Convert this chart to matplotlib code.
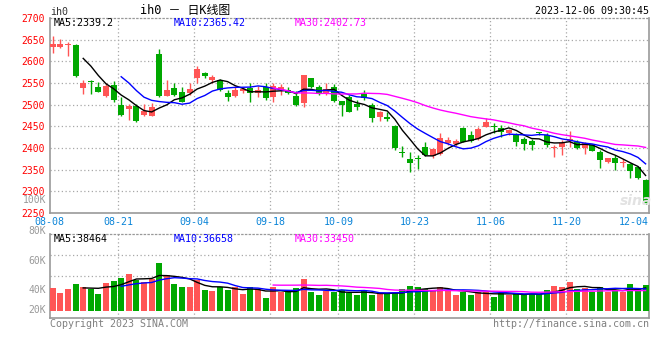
import matplotlib
matplotlib.use('Agg')
import matplotlib.pyplot as plt
import numpy as np
from matplotlib.transforms import blended_transform_factory

# ---------------- data ----------------
dates = ['08-08','08-09','08-10','08-11','08-14','08-15','08-16','08-17','08-18',
         '08-21','08-22','08-23','08-24','08-25','08-28','08-29','08-30','08-31','09-01',
         '09-04','09-05','09-06','09-07','09-08','09-11','09-12','09-13','09-14','09-15',
         '09-18','09-19','09-20','09-21','09-22','09-25','09-26','09-27','09-28',
         '10-09','10-10','10-11','10-12','10-13','10-16','10-17','10-18','10-19','10-20',
         '10-23','10-24','10-25','10-26','10-27','10-30','10-31','11-01','11-02','11-03',
         '11-06','11-07','11-08','11-09','11-10','11-13','11-14','11-15','11-16','11-17',
         '11-20','11-21','11-22','11-23','11-24','11-27','11-28','11-29','11-30','12-01',
         '12-04']
opens  = [2632,2632,2637,2638,2538,2555,2540,2520,2545,2499,2491,2497,2476,2474,2618,2521,2539,2530,2526,2561,
          2574,2557,2558,2528,2520,2532,2539,2528,2540,2518,2535,2534,2520,2503,2561,2541,2525,2541,2508,2518,
          2502,2524,2499,2472,2471,2451,2391,2375,2376,2403,2382,2386,2412,2409,2447,2431,2420,2449,2451,2445,
          2434,2430,2420,2417,2435,2430,2401,2403,2416,2415,2399,2407,2391,2368,2378,2366,2363,2355,2326]
highs  = [2658,2651,2645,2640,2556,2557,2552,2549,2555,2518,2502,2502,2502,2505,2628,2558,2549,2541,2549,2589,
          2576,2568,2559,2534,2543,2541,2549,2543,2549,2551,2547,2540,2532,2568,2562,2545,2549,2547,2508,2522,
          2511,2534,2503,2485,2482,2453,2405,2391,2384,2415,2399,2434,2426,2420,2449,2440,2449,2469,2457,2453,
          2445,2434,2426,2420,2437,2434,2407,2418,2440,2418,2415,2409,2395,2378,2384,2375,2365,2358,2328]
lows   = [2620,2630,2612,2564,2525,2524,2529,2517,2507,2475,2465,2461,2474,2474,2518,2521,2521,2507,2522,2549,
          2561,2549,2532,2509,2518,2528,2507,2518,2511,2507,2522,2525,2497,2494,2539,2522,2522,2507,2475,2484,
          2488,2511,2461,2462,2462,2396,2379,2345,2352,2382,2376,2384,2407,2405,2413,2413,2418,2448,2434,2426,
          2430,2405,2395,2395,2430,2403,2380,2384,2403,2398,2386,2392,2355,2366,2349,2357,2330,2328,2271]
closes = [2640,2640,2638,2567,2549,2552,2530,2543,2510,2476,2497,2463,2486,2494,2521,2534,2522,2507,2536,2582,
          2567,2565,2534,2518,2535,2536,2526,2534,2516,2543,2541,2528,2499,2568,2540,2525,2536,2508,2499,2484,
          2495,2516,2469,2482,2466,2399,2388,2365,2374,2384,2398,2422,2418,2417,2415,2416,2443,2461,2448,2438,
          2442,2413,2409,2407,2434,2406,2402,2411,2420,2399,2411,2393,2372,2376,2365,2368,2348,2330,2272]
volumes = [38.7,30.4,37.0,45.3,40.3,37.0,28.7,47.0,50.3,55.3,61.4,51.5,48.6,53.1,80.2,60.3,45.3,40.3,40.3,51.5,
           35.4,33.7,39.8,35.4,39.8,28.2,39.8,36.0,22.1,39.8,31.0,31.0,38.2,53.1,32.0,26.6,33.2,31.0,34.9,29.4,
           26.6,34.9,26.6,27.7,29.4,29.4,36.5,41.5,39.8,36.5,34.9,39.8,34.9,26.6,31.0,26.6,31.0,31.0,23.2,30.4,
           26.6,30.4,26.6,27.7,27.7,34.9,41.5,40.3,48.6,36.0,37.7,32.0,39.8,31.0,35.4,31.0,44.8,36.5,43.2]  # thousand lots

price_ticks = [2250, 2300, 2350, 2400, 2450, 2500, 2550, 2600, 2650, 2700]
date_tick_idx = [0, 9, 19, 29, 38, 48, 58, 68, 78]
vol_labels = ['100K', '80K', '60K', '40K', '20K']

header_left = 'ih0'
title = 'ih0 － 日K线图'
stamp = '2023-12-06 09:30:45'
ma_price_text = ['MA5:2339.2', 'MA10:2365.42', 'MA30:2402.73']
ma_vol_text = ['MA5:38464', 'MA10:36658', 'MA30:33450']

# ---------------- style ----------------
RED = '#FF5555'
GREEN = '#00A800'
MA_COLORS = ['#000000', '#0000FF', '#FF00FF']
GRID = '#A8A8A8'
FRAME = '#999999'
LBL_RED = '#FF0000'
DATE_BLUE = '#0A84D8'
GRAY_TXT = '#999999'
MONO = ['DejaVu Sans Mono', 'Noto Sans CJK SC']

W, H = 660, 360
fig = plt.figure(figsize=(W / 100, H / 100), dpi=100)
fig.patch.set_facecolor('white')


def px_axes(x0, y0, x1, y1):
    return fig.add_axes([x0 / W, 1 - y1 / H, (x1 - x0) / W, (y1 - y0) / H])


ax1 = px_axes(50, 18, 649, 213)
ax2 = px_axes(50, 234, 649, 317.7)

x = np.arange(len(closes))
o = np.array(opens, float)
h = np.array(highs, float)
l = np.array(lows, float)
c = np.array(closes, float)
v = np.array(volumes, float) * 1000
up = c >= o
cols = np.where(up, RED, GREEN)

STEP = 7.6           # pixels per candle
X0 = 52.8            # pixel centre of first candle
xlim = ((50 - X0) / STEP, (649 - X0) / STEP)
bw = 6 / STEP

# ---------- price panel ----------
ax1.set_xlim(*xlim)
ax1.set_ylim(2250, 2700)
min_body = 450 / 195 * 1.0
ax1.vlines(x, l, h, colors=cols, linewidth=1.0, zorder=3)
body = np.maximum(np.abs(c - o), min_body)
ax1.bar(x, body, bottom=np.minimum(o, c), width=bw, color=cols, linewidth=0, zorder=4)


def ma(arr, n):
    out = np.full(len(arr), np.nan)
    for i in range(n - 1, len(arr)):
        out[i] = arr[i - n + 1:i + 1].mean()
    return out


for n, col in zip([5, 10, 30], MA_COLORS):
    ax1.plot(x, ma(c, n), color=col, linewidth=1.0, zorder=5)
    ax2.plot(x, ma(v, n), color=col, linewidth=1.0, zorder=5)

grid_pos = [i - 0.42 for i in date_tick_idx[1:-1]]
for ax in (ax1, ax2):
    for gx in grid_pos:
        ax.axvline(gx, color=GRID, linestyle=(0, (1, 2)), linewidth=0.9, zorder=1)
for py in price_ticks[1:-1]:
    ax1.axhline(py, color=GRID, linestyle=(0, (1, 2)), linewidth=0.9, zorder=1)

ax1.set_yticks(price_ticks)
ax1.set_yticklabels([str(t) for t in price_ticks], color=LBL_RED, fontsize=7, family=MONO)
ax1.tick_params(axis='y', length=0, pad=4)
ax1.set_xticks([])

for ax in (ax1, ax2):
    ax.set_facecolor('white')
    for s in ['left', 'right', 'bottom']:
        ax.spines[s].set_color(FRAME)
        ax.spines[s].set_linewidth(1.2)
    ax.spines['top'].set_color(FRAME)
    ax.spines['top'].set_linestyle((0, (1, 2)))
    ax.spines['top'].set_linewidth(0.9)

# date labels below price panel
tr = blended_transform_factory(ax1.transData, ax1.transAxes)
for k, i in enumerate(date_tick_idx):
    if k == len(date_tick_idx) - 1:
        ax1.text(1.0, -0.045, dates[i], transform=ax1.transAxes, ha='right', va='center',
                 color=DATE_BLUE, fontsize=7.2, family=MONO)
    else:
        ax1.text(i - 0.42, -0.045, dates[i], transform=tr, ha='center', va='center',
                 color=DATE_BLUE, fontsize=7.2, family=MONO, clip_on=False)

# MA text in price panel
for txt, col, px in zip(ma_price_text, MA_COLORS, [54, 174, 295]):
    fig.text(px / W, 1 - 23.5 / H, txt, color=col, fontsize=7.2, family=MONO, ha='left', va='center')

# ---------- volume panel ----------
VPP = 1660.0   # volume units per pixel
base_px = 311.0
ax2.set_xlim(*xlim)
ax2.set_ylim(-(317.7 - base_px) * VPP, (base_px - 234) * VPP)
ax2.bar(x, v, bottom=0, width=bw, color=cols, linewidth=0, zorder=4)
for gy in [255, 276]:
    ax2.axhline((base_px - gy) * VPP, color=GRID, linestyle=(0, (1, 2)), linewidth=0.9, zorder=1)
ax2.set_xticks([])
ax2.set_yticks([])

for lab, py in zip(vol_labels, [200, 231, 261, 290, 310]):
    fig.text(46 / W, 1 - py / H, lab, color=GRAY_TXT, fontsize=7, family=MONO, ha='right', va='center')

for txt, col, px in zip(ma_vol_text, MA_COLORS, [54, 174, 295]):
    fig.text(px / W, 1 - 238.5 / H, txt, color=col, fontsize=7.2, family=MONO, ha='left', va='center')

# ---------- header / footer ----------
fig.text(50 / W, 1 - 12 / H, header_left, color='#333333', fontsize=7.2, family=MONO, ha='left', va='center')
fig.text(185 / W, 1 - 10.5 / H, title, color='#000000', fontsize=8.6, family=MONO, ha='center', va='center')
fig.text(649 / W, 1 - 11.5 / H, stamp, color='#000000', fontsize=7.2, family=MONO, ha='right', va='center')
fig.text(50 / W, 1 - 323.7 / H, 'Copyright 2023 SINA.COM', color='#808080', fontsize=7.2, family=MONO,
         ha='left', va='center')
fig.text(649 / W, 1 - 324 / H, 'http://finance.sina.com.cn', color='#808080', fontsize=7.2, family=MONO,
         ha='right', va='center')
fig.text(636 / W, 1 - 201 / H, 'sina', color='#E2E2E2', fontsize=10, fontweight='bold', style='italic',
         family='DejaVu Sans', ha='center', va='center', zorder=0)

fig.savefig('out.png', dpi=100, facecolor='white')
